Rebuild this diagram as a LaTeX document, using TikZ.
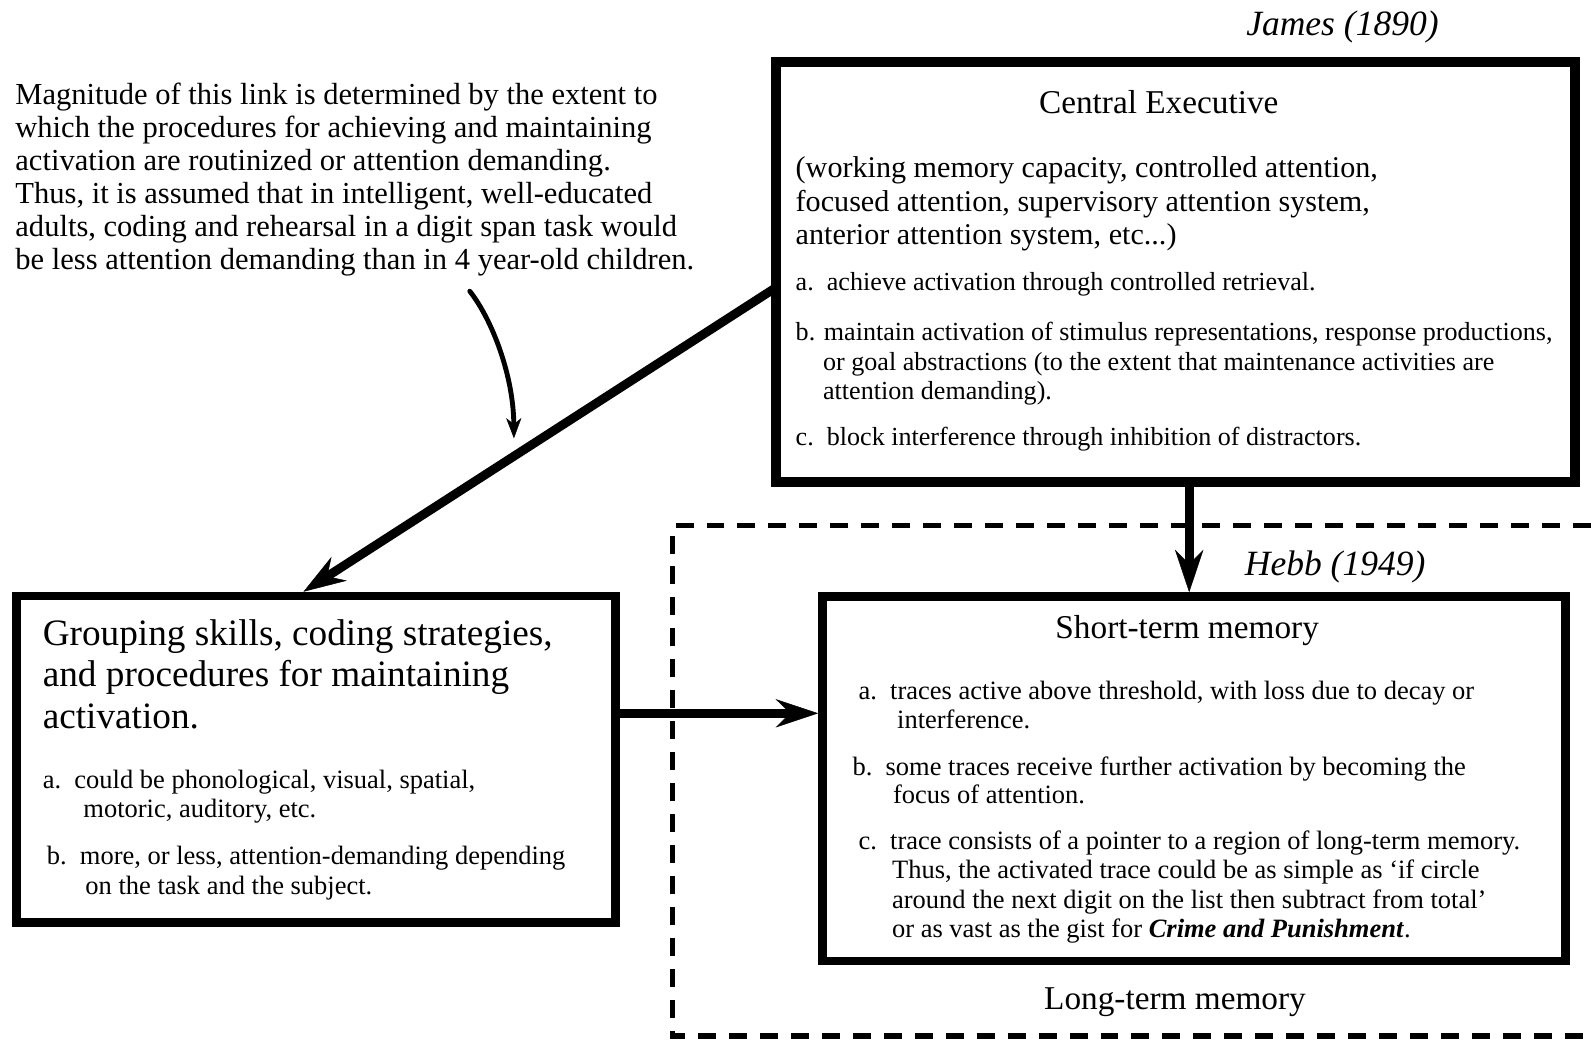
\documentclass[tikz,border=0pt]{standalone}
\usepackage{fontspec}
\setmainfont{Liberation Serif}
\usetikzlibrary{arrows.meta}

\tikzset{
  boxframe/.style={draw, line width=#1, anchor=north west, inner sep=0pt},
  textline/.style={anchor=base west, inner sep=0pt},
  introtext/.style={textline, font=\fontsize{30.1}{33}\selectfont},
  headtext/.style={textline, font=\fontsize{29.7}{33}\selectfont},
  itemtext/.style={textline, font=\fontsize{25.7}{29}\selectfont},
  titletext/.style={anchor=base, inner sep=0pt, font=\fontsize{32.8}{36}\selectfont},
  grouptitle/.style={textline, font=\fontsize{36.7}{41}\selectfont},
  groupitem/.style={textline, font=\fontsize{26.1}{30}\selectfont},
  stmitem/.style={textline, font=\fontsize{26.1}{29}\selectfont},
  author/.style={anchor=base east, inner sep=0pt, font=\fontsize{35}{40}\selectfont\itshape},
  bigarrow/.style={line width=8.8pt,
    -{Stealth[length=42pt, width=28pt, inset=14pt, line width=0.5pt]}},
  thinarrow/.style={line width=4.8pt, line cap=round,
    -{Stealth[length=20pt, width=15pt, inset=6pt, line width=0.5pt]}},
  ltmframe/.style={line width=5pt, dash pattern=on 17.7pt off 12.8pt},
}

\begin{document}
\begin{tikzpicture}[x=1pt, y=-1pt]
\useasboundingbox (0,0) rectangle (1568,1025);

% ---- note on the left ----
\foreach \txt [count=\i] in {
  {Magnitude of this link is determined by the extent to},
  {which the procedures for achieving and maintaining},
  {activation are routinized or attention demanding.},
  {Thus, it is assumed that in intelligent, well-educated},
  {adults, coding and rehearsal in a digit span task would},
  {be less attention demanding than in 4 year-old children.}}
  \node[introtext] (intro\i) at (15, {69.9 + 32.6*\i}) {\txt};

% ---- central executive ----
\node[author] (james) at (1418,35) {James (1890)};
\node[boxframe=9.4pt, minimum width=787pt, minimum height=414pt] (ce) at (760.3,56.3) {};
\node[titletext] (cetitle) at (1142,112) {Central Executive};
\node[headtext] (ceh1) at (784,175) {(working memory capacity, controlled attention,};
\node[headtext] (ceh2) at (784,208) {focused attention, supervisory attention system,};
\node[headtext] (ceh3) at (784,241) {anterior attention system, etc...)};
\node[itemtext] (cea) at (784,286) {a.\ \ achieve activation through controlled retrieval.};
\node[itemtext] (ceb1) at (784,336) {b. maintain activation of stimulus representations, response productions,};
\node[itemtext] (ceb2) at (811,365) {or goal abstractions (to the extent that maintenance activities are};
\node[itemtext] (ceb3) at (811,394) {attention demanding).};
\node[itemtext] (cec) at (784,439) {c.\ \ block interference through inhibition of distractors.};

% ---- long-term memory region ----
\draw[ltmframe] (1568,518) -| (662.8,1021) -- (1568,1021);
\node[titletext] (ltm) at (1158,995) {Long-term memory};

% ---- short-term memory ----
\node[author] (hebb) at (1405,567) {Hebb (1949)};
\node[boxframe=8.5pt, minimum width=732.4pt, minimum height=359pt] (stm) at (806.4,583.8) {};
\node[titletext] (stmtitle) at (1170,629) {Short-term memory};
\node[stmitem] (stma1) at (846,689) {a.\ \ traces active above threshold, with loss due to decay or};
\node[stmitem] (stma2) at (884,718) {interference.};
\node[stmitem] (stmb1) at (840,764) {b.\ \ some traces receive further activation by becoming the};
\node[stmitem] (stmb2) at (880,792) {focus of attention.};
\node[stmitem] (stmc1) at (846,837) {c.\ \ trace consists of a pointer to a region of long-term memory.};
\node[stmitem] (stmc2) at (879,866) {Thus, the activated trace could be as simple as ‘if circle};
\node[stmitem] (stmc3) at (879,895) {around the next digit on the list then subtract from total’};
\node[stmitem] (stmc4) at (879,924) {or as vast as the gist for \textbf{\textit{Crime and Punishment}}.};

% ---- grouping skills ----
\node[boxframe=8.5pt, minimum width=590.6pt, minimum height=321.6pt] (grp) at (11.8,583.2) {};
\node[grouptitle] (grpt1) at (42,636) {Grouping skills, coding strategies,};
\node[grouptitle] (grpt2) at (42,677) {and procedures for maintaining};
\node[grouptitle] (grpt3) at (42,718) {activation.};
\node[groupitem] (grpa1) at (42,777) {a.\ \ could be phonological, visual, spatial,};
\node[groupitem] (grpa2) at (82,806) {motoric, auditory, etc.};
\node[groupitem] (grpb1) at (46,852) {b.\ \ more, or less, attention-demanding depending};
\node[groupitem] (grpb2) at (84,882) {on the task and the subject.};

% ---- connectors ----
\coordinate (diagtip) at (299,0);
\coordinate (vx) at (1172,0);
\coordinate (hy) at (0,703);
\draw[bigarrow] ([xshift=5pt, yshift=-15pt]ce.west) -- (grp.north -| diagtip);
\draw[bigarrow] (ce.south -| vx) -- (stm.north -| vx);
\draw[bigarrow] (grp.east |- hy) -- (stm.west |- hy);

\coordinate (notestart) at (463,287);
\coordinate (noteend) at (506.5,432);
\draw[thinarrow] (notestart) .. controls (485,315) and (506,370) .. (noteend);
\end{tikzpicture}
\end{document}
